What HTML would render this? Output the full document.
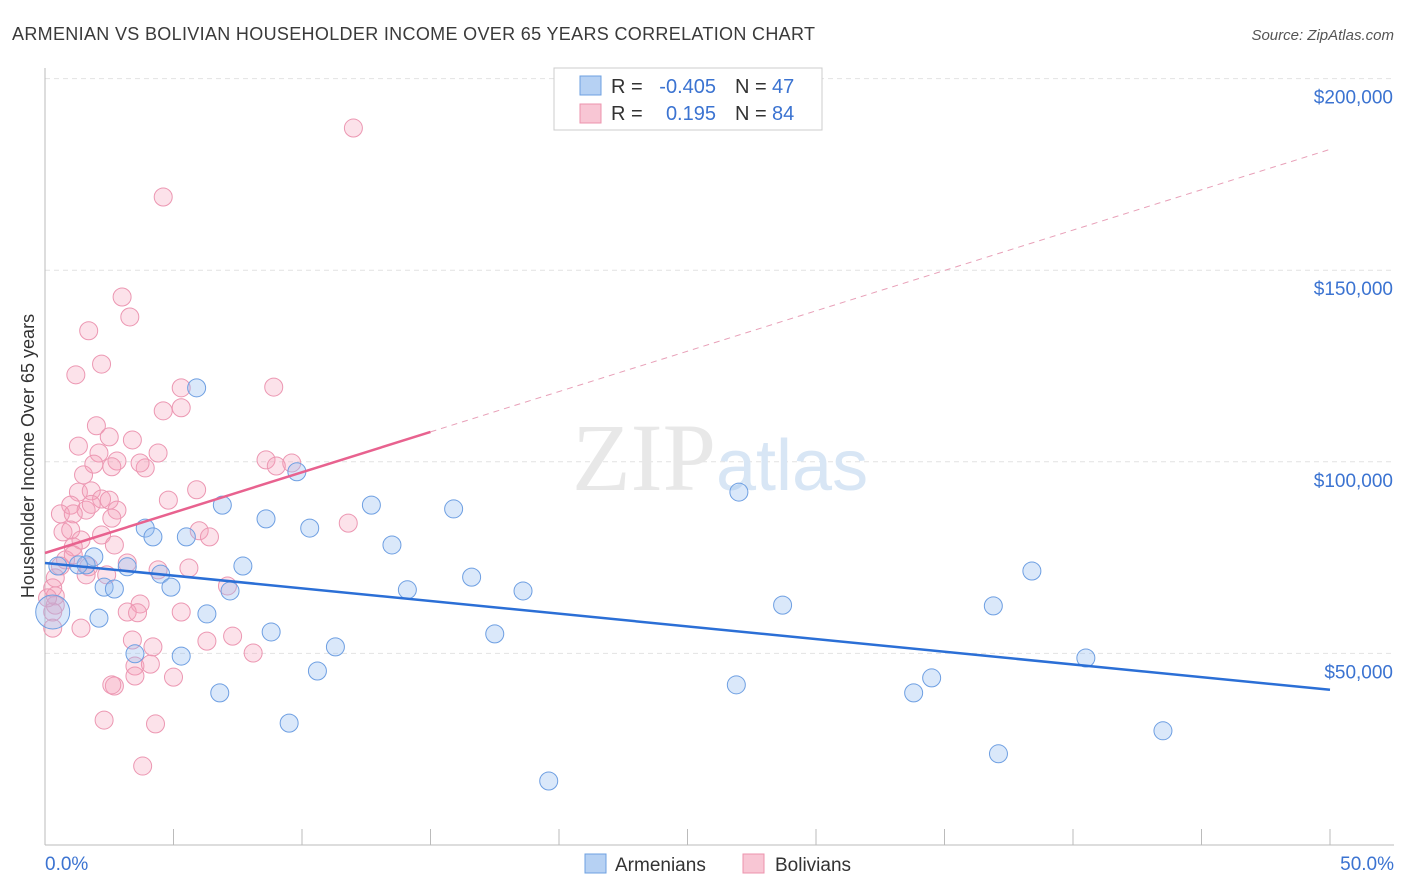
<!DOCTYPE html>
<html><head><meta charset="utf-8"><style>
body{margin:0;background:#fff;font-family:"Liberation Sans",sans-serif;}
svg{display:block}
</style></head><body>
<svg id="chart" width="1406" height="892" viewBox="0 0 1406 892" xmlns="http://www.w3.org/2000/svg">
<text x="12" y="40" font-size="18" fill="#3a3a3a" textLength="803">ARMENIAN VS BOLIVIAN HOUSEHOLDER INCOME OVER 65 YEARS CORRELATION CHART</text>
<text x="1394" y="40" font-size="15" fill="#555" font-style="italic" text-anchor="end">Source: ZipAtlas.com</text>
<text x="34" y="456" font-size="18" fill="#333" text-anchor="middle" transform="rotate(-90 34 456)">Householder Income Over 65 years</text>
<g id="grid"></g>
<text x="716" y="490" font-size="96" fill="#e8e8e8" text-anchor="end" font-family="Liberation Serif,serif">ZIP</text>
<text x="716" y="490" font-size="72" fill="#d8e6f5">atlas</text>
<g id="marks"></g>
<g id="lines"></g>
<g>
<rect x="554" y="68" width="268" height="62" fill="#fff" stroke="#ccc"/>
<rect x="580" y="76" width="21" height="19" fill="#b6d1f3" stroke="#6ea0e0"/>
<rect x="580" y="104" width="21" height="19" fill="#f8c6d4" stroke="#ec93ad"/>
<text x="611" y="93" font-size="20" fill="#333">R = </text><text x="716" y="93" font-size="20" fill="#3b73d1" text-anchor="end">-0.405</text>
<text x="735" y="93" font-size="20" fill="#333">N = </text><text x="772" y="93" font-size="20" fill="#3b73d1">47</text>
<text x="611" y="120" font-size="20" fill="#333">R = </text><text x="716" y="120" font-size="20" fill="#3b73d1" text-anchor="end">0.195</text>
<text x="735" y="120" font-size="20" fill="#333">N = </text><text x="772" y="120" font-size="20" fill="#3b73d1">84</text>
</g>
<g>
<rect x="585" y="854" width="21" height="19" fill="#b6d1f3" stroke="#6ea0e0"/>
<text x="615" y="871" font-size="19" fill="#333">Armenians</text>
<rect x="743" y="854" width="21" height="19" fill="#f8c6d4" stroke="#ec93ad"/>
<text x="775" y="871" font-size="19" fill="#333">Bolivians</text>
</g>
</svg>
<script>
const yTicks=[50000,100000,150000,200000];
const yTickLabels=["$50,000","$100,000","$150,000","$200,000"];
const xTickLabels=["0.0%","50.0%"];
const armX=[5.9,9.8,6.9,12.7,15.9,27.0,8.6,3.9,10.3,4.2,5.5,13.5,1.9,1.6,0.5,3.2,7.7,1.3,4.5,16.6,38.4,2.3,2.7,4.9,7.2,14.1,18.6,28.7,36.9,6.3,2.1,0.3,8.8,17.5,11.3,3.5,5.3,40.5,10.6,6.8,26.9,34.5,33.8,9.5,43.5,37.1,19.6];
const armY=[119.3,97.4,88.7,88.7,87.7,92.1,85.1,82.7,82.7,80.4,80.4,78.3,75.2,73.1,72.8,72.6,72.8,73.1,70.7,69.9,71.5,67.3,66.8,67.3,66.3,66.6,66.3,62.6,62.4,60.3,59.2,60.8,55.6,55.1,51.7,49.9,49.3,48.8,45.4,39.7,41.8,43.6,39.7,31.8,29.8,23.8,16.7];
const armR=[9,9,9,9,9,9,9,9,9,9,9,9,9,9,9,9,9,9,9,9,9,9,9,9,9,9,9,9,9,9,9,17,9,9,9,9,9,9,9,9,9,9,9,9,9,9,9];
const bolX=[12.0,4.6,3.0,3.3,1.7,2.2,1.2,5.3,8.9,5.3,4.6,2.0,2.5,3.4,1.3,2.1,4.4,2.8,8.6,9.6,9.0,1.9,2.6,3.9,1.5,4.8,1.3,1.8,2.2,2.5,1.0,1.6,2.8,0.6,1.1,11.8,6.0,0.7,6.4,2.2,1.0,1.4,2.7,1.1,0.6,1.7,1.6,3.2,4.4,5.6,2.4,0.4,0.3,0.4,0.4,0.3,3.7,5.3,3.2,3.6,7.1,0.3,1.4,7.3,6.3,4.2,8.1,3.5,4.1,3.5,5.0,2.7,2.6,2.3,4.3,3.8,0.1,0.8,1.1,2.6,1.8,3.7,5.9,3.4];
const bolY=[187.1,169.1,143.0,137.8,134.2,125.5,122.7,119.3,119.5,114.1,113.3,109.4,106.5,105.7,104.1,102.3,102.3,100.2,100.5,99.7,98.9,99.4,98.7,98.4,96.6,90.0,92.1,92.4,90.3,90.0,88.7,87.4,87.4,86.4,86.4,84.0,82.0,81.7,80.4,80.9,82.2,79.6,78.3,77.8,72.8,72.6,70.5,73.6,71.8,72.3,70.5,69.7,67.1,65.0,62.6,60.8,62.9,60.8,60.8,60.6,67.6,56.6,56.6,54.5,53.2,51.7,50.1,46.7,47.2,44.1,43.8,41.5,41.8,32.6,31.6,20.6,64.5,74.4,75.7,85.3,88.9,99.7,92.7,53.5];
const armTrend=[73.6,40.5];
const bolTrend=[76.2,107.8];
const bolSolidEnd=15;
const NS="http://www.w3.org/2000/svg";
const X0=45,X1=1330,YB=845,YPER=191.6/50000;
function sx(p){return X0+(p/50)*(X1-X0);}
function sy(v){return YB-v*YPER;}
function mk(t,a,p){const e=document.createElementNS(NS,t);for(const k in a)e.setAttribute(k,a[k]);p.appendChild(e);return e;}
const grid=document.getElementById('grid'),marks=document.getElementById('marks'),lines=document.getElementById('lines');
yTicks.forEach((v,i)=>{
 const l=mk('line',{x1:X0,x2:1394,y1:sy(v),y2:sy(v),stroke:'#e2e2e2','stroke-dasharray':'5,4'},grid);
 
 
 const t=mk('text',{x:1393,y:sy(v)+25,'font-size':19,fill:'#3b73d1','text-anchor':'end'},grid);
 t.textContent=yTickLabels[i];
 
 
});
mk('line',{x1:X0,x2:X0,y1:68,y2:YB,stroke:'#bbb'},grid);
mk('line',{x1:X0,x2:1394,y1:YB,y2:YB,stroke:'#bbb'},grid);
for(let i=0;i<=10;i++){mk('line',{x1:sx(i*5),x2:sx(i*5),y1:YB,y2:YB-16,stroke:'#bbb'},grid);}
[[0,'start',45],[50,'end',1394]].forEach((d,i)=>{
 const t=mk('text',{x:d[2],y:870,'font-size':19,fill:'#3b73d1','text-anchor':d[1]},grid);
 t.textContent=xTickLabels[i];
 
 
});
bolX.forEach((x,i)=>{
 const c=mk('circle',{cx:sx(x),cy:sy(bolY[i]*1000),r:9,fill:'rgba(244,160,186,0.3)',stroke:'#ec97b2','stroke-width':1},marks);
 
 
});
armX.forEach((x,i)=>{
 const c=mk('circle',{cx:sx(x),cy:sy(armY[i]*1000),r:armR[i],fill:'rgba(150,190,240,0.35)',stroke:'#6e9fe2','stroke-width':1},marks);
 
 
});
const a=mk('line',{x1:sx(0),y1:sy(armTrend[0]*1000),x2:sx(50),y2:sy(armTrend[1]*1000),stroke:'#2b6fd6','stroke-width':2.5},lines);


const slope=(bolTrend[1]-bolTrend[0])/bolSolidEnd;
const b=mk('line',{x1:sx(0),y1:sy(bolTrend[0]*1000),x2:sx(bolSolidEnd),y2:sy(bolTrend[1]*1000),stroke:'#e8628f','stroke-width':2.5},lines);


const bd=mk('line',{x1:sx(bolSolidEnd),y1:sy(bolTrend[1]*1000),x2:sx(50),y2:sy((bolTrend[0]+slope*50)*1000),stroke:'#e8a0b8','stroke-width':1,'stroke-dasharray':'6,5'},lines);


</script>
</body></html>
